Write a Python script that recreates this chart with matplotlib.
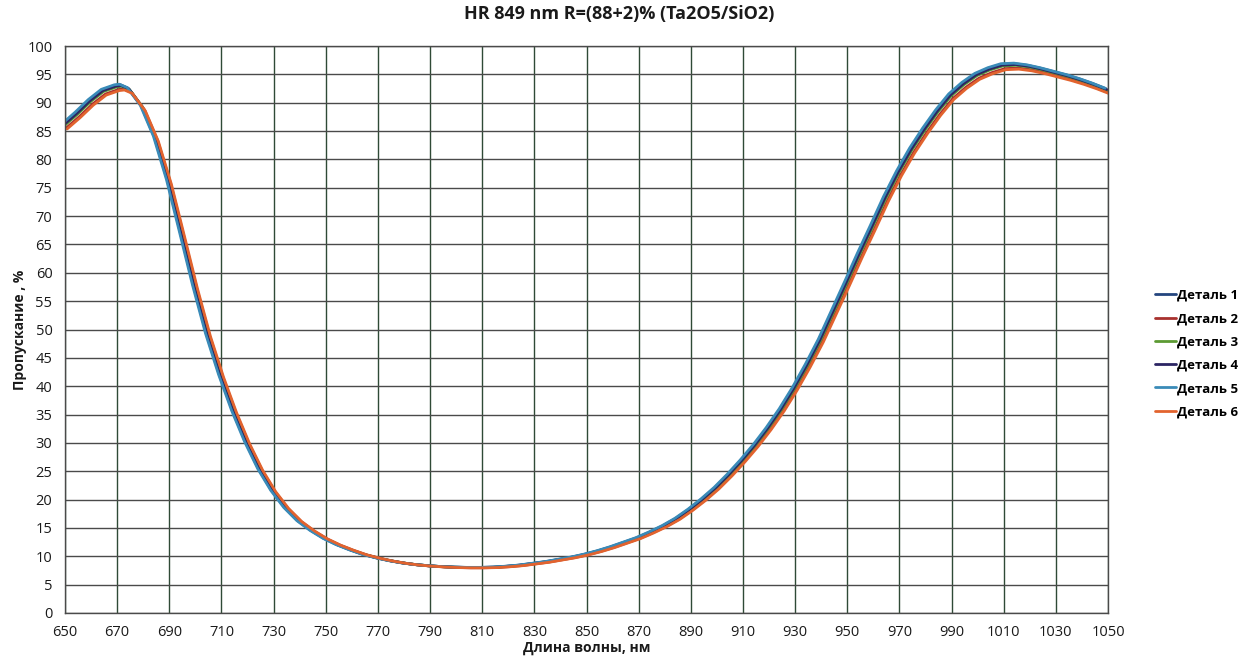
import matplotlib
matplotlib.use("Agg")
import matplotlib.pyplot as plt
import numpy as np

wavelength = [650, 655, 660, 665, 670, 672, 675, 680, 685, 690, 695, 700, 705, 710, 715, 720, 725, 730,
              735, 740, 745, 750, 755, 760, 765, 770, 775, 780, 785, 790, 795, 800, 805, 810, 815,
              820, 825, 830, 835, 840, 845, 850, 855, 860, 865, 870, 875, 880, 885, 890, 895, 900,
              905, 910, 915, 920, 925, 930, 935, 940, 945, 950, 955, 960, 965, 970, 975, 980, 985,
              990, 995, 1000, 1005, 1010, 1015, 1020, 1025, 1030, 1035, 1040, 1045, 1050]
transmission = [85.8, 87.8, 90.0, 91.8, 92.6, 92.7, 92.1, 89.0, 83.6, 76.0, 66.8, 57.5, 49.0, 41.8, 35.5, 30.0, 25.3, 21.5,
                18.5, 16.2, 14.5, 13.1, 12.0, 11.1, 10.3, 9.7, 9.2, 8.8, 8.5, 8.3, 8.15, 8.05, 8.0, 8.0, 8.05,
                8.2, 8.4, 8.7, 9.0, 9.4, 9.8, 10.3, 10.9, 11.6, 12.4, 13.2, 14.2, 15.3, 16.6, 18.2, 20.0, 22.0,
                24.3, 26.8, 29.5, 32.5, 35.8, 39.5, 43.6, 48.0, 53.0, 58.0, 63.1, 68.0, 73.0, 77.5, 81.5, 85.0, 88.2,
                91.0, 93.0, 94.6, 95.6, 96.3, 96.4, 96.1, 95.6, 95.0, 94.4, 93.7, 92.9, 92.0]

series_names = ["Деталь 1", "Деталь 2", "Деталь 3", "Деталь 4", "Деталь 5", "Деталь 6"]
series_shift_nm = [-0.8, 0.5, -0.2, -0.5, -1.1, 0.8]
series_level = [0.5, -0.3, 0.2, 0.35, 0.6, -0.5]
series_colors = ["#24457e", "#a8312e", "#5c9a33", "#2b2563", "#3a8bb8", "#e2632e"]

x_ticks = list(range(650, 1051, 20))
y_ticks = list(range(0, 101, 5))

fig = plt.figure(figsize=(12.4, 6.66), dpi=100)
ax = fig.add_axes([65/1240, 53/666, (1108-65)/1240, (613-46)/666])

wl = np.array(wavelength, dtype=float)
tr = np.array(transmission, dtype=float)
for name, sh, lv, col in zip(series_names, series_shift_nm, series_level, series_colors):
    ax.plot(wl + sh, tr + lv * tr / 100.0, color=col, lw=2.0, label=name,
            solid_joinstyle="round", solid_capstyle="round")

ax.set_xlim(650, 1050)
ax.set_ylim(0, 100)
ax.set_xticks(x_ticks)
ax.set_yticks(y_ticks)
ax.tick_params(length=0, labelsize=10.5, pad=9)
ax.xaxis.grid(True, color="#2f4a36", lw=1.0)
ax.yaxis.grid(True, color="#4a4a4a", lw=1.0)
ax.set_axisbelow(True)
for s in ax.spines.values():
    s.set_color("#4a4a4a")
    s.set_linewidth(1.0)
for lab in ax.get_xticklabels() + ax.get_yticklabels():
    lab.set_fontfamily("Open Sans")
    lab.set_color("#1a1a1a")

fig.text(619/1240, 1 - 14/666, "HR 849 nm R=(88+2)% (Ta2O5/SiO2)", ha="center", va="center",
         fontsize=13, fontweight="bold", family="Open Sans", color="#1a1a1a")
fig.text(587/1240, 1 - 648/666, "Длина волны, нм", ha="center", va="center",
         fontsize=10, fontweight="bold", family="Open Sans", color="#1a1a1a")
fig.text(20/1240, 1 - 330/666, "Пропускание , %", ha="center", va="center", rotation=90,
         fontsize=10, fontweight="bold", family="Open Sans", color="#1a1a1a")

leg = fig.legend(loc="upper left", bbox_to_anchor=(1143/1240, 1 - 277/666), frameon=False,
                 handlelength=1.6, handletextpad=0.1, labelspacing=0.78,
                 prop={"family": "Open Sans", "weight": "bold", "size": 9.5})

fig.savefig("out.png", dpi=100, facecolor="white")
